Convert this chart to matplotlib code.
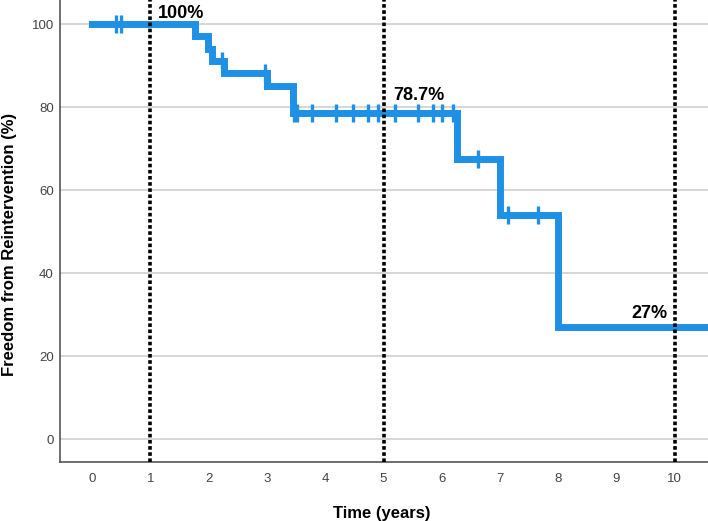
import numpy as np
import matplotlib.pyplot as plt

plt.rcParams['font.family'] = ['Liberation Sans', 'DejaVu Sans']

# Kaplan-Meier steps (time in years, freedom from reintervention in %)
step_times = [0.0, 1.77, 1.98, 2.05, 2.26, 3.0, 3.45, 6.27, 7.0, 8.0, 10.7]
step_surv = [100.0, 97.1, 94.1, 91.2, 88.2, 85.2, 78.7, 67.5, 54.0, 27.0, 27.0]

# censored observations
censor_times = [0.40, 0.49, 2.22, 2.96, 3.46, 3.52, 3.77, 4.19, 4.48, 4.73, 4.91,
                5.20, 5.59, 5.85, 6.00, 6.19, 6.62, 7.14, 7.65]

# annotated landmarks
mark_years = [1, 5, 10]
mark_labels = ['100%', '78.7%', '27%']

blue = '#1e90e6'

fig = plt.figure(figsize=(7.08, 5.21), dpi=100)
ax = fig.add_axes([0.085, 0.113, 0.915, 0.887])

ax.step(step_times, step_surv, where='post', color=blue, lw=5,
        solid_joinstyle='miter', zorder=3)

idx = np.searchsorted(step_times, censor_times, side='right') - 1
censor_surv = np.array(step_surv)[idx]
ax.plot(censor_times, censor_surv, ls='none', marker='|', ms=13, mew=2.4,
        color=blue, zorder=3)

for yr in mark_years:
    ax.axvline(yr, color='black', ls=(0, (1, 0.7)), lw=2.6, zorder=4)

ax.text(1.12, 101.5, mark_labels[0], fontsize=13, fontweight='bold',
        ha='left', va='baseline', zorder=5)
ax.text(5.17, 81.8, mark_labels[1], fontsize=13, fontweight='bold',
        ha='left', va='baseline', zorder=5)
ax.text(9.88, 29.3, mark_labels[2], fontsize=13, fontweight='bold',
        ha='right', va='baseline', zorder=5)

ax.set_xlim(-0.55, 10.57)
ax.set_ylim(-5.5, 105.8)
ax.set_xticks(range(0, 11))
ax.set_yticks(range(0, 101, 20))
ax.tick_params(length=0, labelsize=9.5, labelcolor='#444444')
ax.tick_params(axis='x', pad=8)
ax.tick_params(axis='y', pad=4.5)
ax.yaxis.grid(True, color='#d0d0d0', lw=1.2)
ax.set_axisbelow(True)

for s in ['top', 'right']:
    ax.spines[s].set_visible(False)
for s in ['left', 'bottom']:
    ax.spines[s].set_color('#555555')
    ax.spines[s].set_linewidth(1.2)

ax.set_xlabel('Time (years)', fontsize=12, fontweight='bold')
ax.set_ylabel('Freedom from Reintervention (%)', fontsize=12,
              fontweight='bold')
ax.xaxis.set_label_coords(0.497, -0.094)
ax.yaxis.set_label_coords(-0.066, 0.472)

fig.savefig('out.png', dpi=100)
